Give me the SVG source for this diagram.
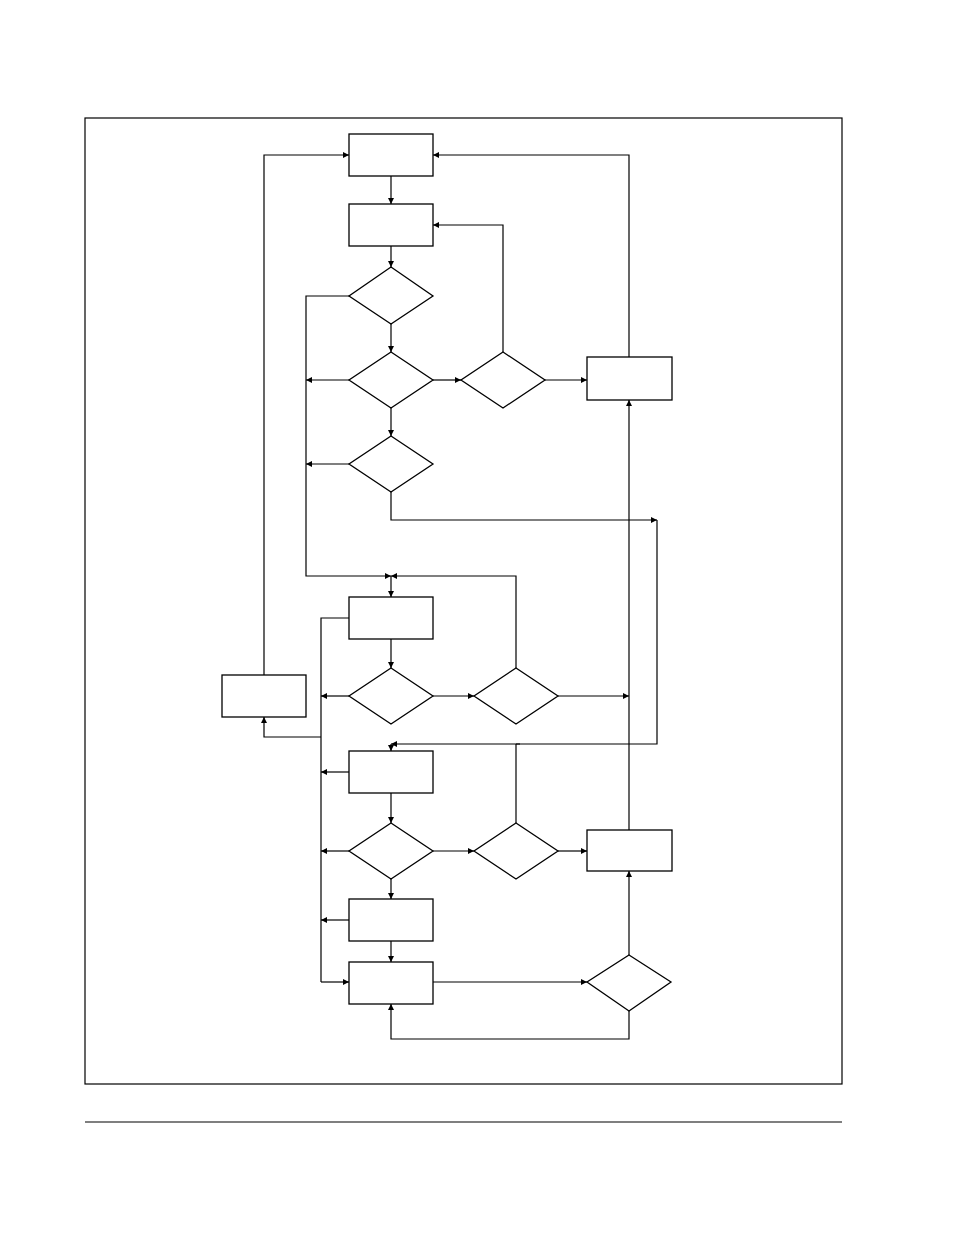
<svg xmlns="http://www.w3.org/2000/svg" width="954" height="1235" viewBox="0 0 954 1235">
<style>
.n{fill:#fff;stroke:#000;stroke-width:1.3}
.c path{fill:none;stroke:#000;stroke-width:1.2;marker-end:url(#a)}
.c path.p{marker-end:none}
</style>
<defs><marker id="a" markerWidth="6" markerHeight="6" refX="6" refY="3" orient="auto" markerUnits="userSpaceOnUse"><path d="M0,0L6,3L0,6z" fill="#000"/></marker></defs>
<rect x="85" y="118" width="757" height="966" fill="none" stroke="#000" stroke-width="1.2"/>
<line x1="85" y1="1122" x2="842" y2="1122" stroke="#000" stroke-width="1.2"/>
<g class="c">
<path d="M391,176V204"/><path d="M391,246V267"/><path d="M391,324V352"/><path d="M391,408V436"/>
<path d="M349,296H306V576H391"/><path d="M349,380H306"/><path d="M349,464H306"/>
<path d="M433,380H461"/><path d="M545,380H587"/>
<path d="M503,352V225H433"/><path d="M629,357V155H433"/>
<path d="M391,492V520H657"/><path class="p" d="M657,520V744H516"/><path d="M520,744H391"/>
<path d="M516,668V576H391"/><path d="M391,576V597"/>
<path d="M391,639V668"/><path d="M349,696H321"/><path d="M433,696H474"/><path d="M558,696H629"/>
<path class="p" d="M349,618H321V982"/><path d="M321,982H349"/>
<path d="M264,675V155H349"/><path d="M321,737H264V717"/>
<path d="M391,744V751"/><path d="M349,772H321"/><path d="M391,793V823"/>
<path d="M349,851H321"/><path d="M433,851H474"/><path d="M558,851H587"/><path class="p" d="M516,823V744"/>
<path d="M391,879V899"/><path d="M349,920H321"/><path d="M391,941V962"/>
<path d="M433,982H587"/><path d="M629,955V871"/><path d="M629,830V400"/>
<path d="M629,1011V1039H391V1004"/>
</g>
<g id="b1"><rect class="n" x="349" y="134" width="84" height="42"/></g>
<g id="b2"><rect class="n" x="349" y="204" width="84" height="42"/></g>
<g id="d1"><polygon class="n" points="391,267 433,296 391,324 349,296"/></g>
<g id="d2"><polygon class="n" points="391,352 433,380 391,408 349,380"/></g>
<g id="d3"><polygon class="n" points="503,352 545,380 503,408 461,380"/></g>
<g id="br1"><rect class="n" x="587" y="357" width="85" height="43"/></g>
<g id="d4"><polygon class="n" points="391,436 433,464 391,492 349,464"/></g>
<g id="b3"><rect class="n" x="349" y="597" width="84" height="42"/></g>
<g id="d6"><polygon class="n" points="391,668 433,696 391,724 349,696"/></g>
<g id="d5"><polygon class="n" points="516,668 558,696 516,724 474,696"/></g>
<g id="bl"><rect class="n" x="222" y="675" width="84" height="42"/></g>
<g id="b4"><rect class="n" x="349" y="751" width="84" height="42"/></g>
<g id="d7"><polygon class="n" points="391,823 433,851 391,879 349,851"/></g>
<g id="d8"><polygon class="n" points="516,823 558,851 516,879 474,851"/></g>
<g id="br2"><rect class="n" x="587" y="830" width="85" height="41"/></g>
<g id="b5"><rect class="n" x="349" y="899" width="84" height="42"/></g>
<g id="b6"><rect class="n" x="349" y="962" width="84" height="42"/></g>
<g id="d9"><polygon class="n" points="629,955 671,982 629,1011 587,982"/></g>
</svg>
